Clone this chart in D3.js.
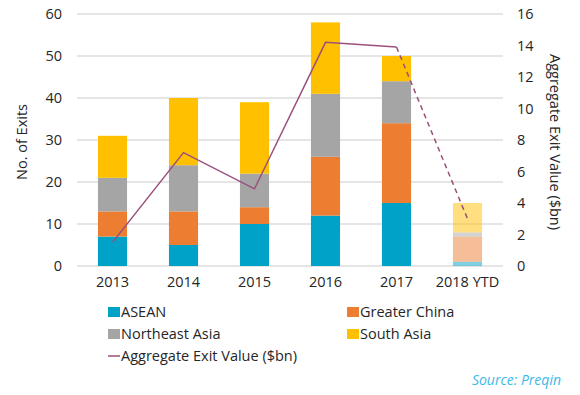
<!DOCTYPE html>
<html>
<head>
<meta charset="utf-8">
<script src="https://cdn.jsdelivr.net/npm/d3@7"></script>
<style>
body { margin: 0; background: #fff; }
text { font-family: "Open Sans", sans-serif; fill: #262626; }
</style>
</head>
<body>
<div id="chart"></div>
<script>
var years = ["2013", "2014", "2015", "2016", "2017", "2018 YTD"];
var asean = [7, 5, 10, 12, 15, 1];
var greaterChina = [6, 8, 4, 14, 19, 6];
var northeastAsia = [8, 11, 8, 15, 10, 1];
var southAsia = [10, 16, 17, 17, 6, 7];
var exitValue = [1.5, 7.2, 4.9, 14.2, 13.9, 3.0];
var leftTicks = [0, 10, 20, 30, 40, 50, 60];
var rightTicks = [0, 2, 4, 6, 8, 10, 12, 14, 16];

var seriesNames = ["ASEAN", "Greater China", "Northeast Asia", "South Asia"];
var colors = ["#00a2c7", "#ed7d31", "#a5a5a5", "#ffc000"];
var fs = "14.5px";

var w = 580, h = 395;
var svg = d3.select("#chart").append("svg").attr("width", w).attr("height", h);

var x = d3.scaleBand().domain(years).range([77, 503]).paddingInner(0.59).paddingOuter(0.295);
var yL = d3.scaleLinear().domain([0, 60]).range([266, 14]);
var yR = d3.scaleLinear().domain([0, 16]).range([266, 14]);

// gridlines
svg.append("g").selectAll("line").data(leftTicks).enter().append("line")
	.attr("x1", 77).attr("x2", 503)
	.attr("y1", d => yL(d)).attr("y2", d => yL(d))
	.style("stroke", "#dcdcdc").style("stroke-width", 1.5);

// stacked bars
var table = years.map(function(y, i){
	return { year: y, s0: asean[i], s1: greaterChina[i], s2: northeastAsia[i], s3: southAsia[i] };
});
var stack = d3.stack().keys(["s0", "s1", "s2", "s3"])(table);

svg.append("g").selectAll("g").data(stack).enter().append("g")
	.style("fill", (d, i) => colors[i])
	.selectAll("rect").data(d => d).enter().append("rect")
	.attr("x", d => x(d.data.year))
	.attr("width", x.bandwidth())
	.attr("y", d => yL(d[1]))
	.attr("height", d => yL(d[0]) - yL(d[1]))
	.style("opacity", d => d.data.year == "2018 YTD" ? 0.5 : 1);

// line
var pts = years.map((y, i) => [x(y) + x.bandwidth()/2, yR(exitValue[i])]);
var line = d3.line();
svg.append("path").attr("d", line(pts.slice(0, 5)))
	.style("fill", "none").style("stroke", "#9b4f7b").style("stroke-width", 1.5);
svg.append("path").attr("d", line(pts.slice(4)))
	.style("fill", "none").style("stroke", "#9b4f7b").style("stroke-width", 1.5)
	.style("stroke-dasharray", "5,4");

// axes labels
var axL = svg.append("g").attr("transform", "translate(62,0)")
	.call(d3.axisLeft(yL).tickValues(leftTicks).tickSize(0).tickPadding(0));
var axR = svg.append("g").attr("transform", "translate(517,0)")
	.call(d3.axisRight(yR).tickValues(rightTicks).tickSize(0).tickPadding(0));
var axX = svg.append("g").attr("transform", "translate(0,272)")
	.call(d3.axisBottom(x).tickSize(0).tickPadding(5));
[axL, axR, axX].forEach(function(a){
	a.select(".domain").remove();
	a.selectAll("text").style("font-size", fs).style("font-family", "'Open Sans', sans-serif").attr("fill", "#262626");
});

svg.append("text").attr("transform", "translate(27,142) rotate(-90)")
	.attr("text-anchor", "middle").style("font-size", fs).text("No. of Exits");
svg.append("text").attr("transform", "translate(550,142) rotate(90)")
	.attr("text-anchor", "middle").style("font-size", fs).text("Aggregate Exit Value ($bn)");

// legend
var legendPos = [[108, 312], [347, 312], [108, 334], [347, 334]];
seriesNames.forEach(function(n, i){
	var g = svg.append("g").attr("transform", "translate(" + legendPos[i][0] + "," + legendPos[i][1] + ")");
	g.append("rect").attr("x", 0).attr("y", -5).attr("width", 12).attr("height", 10).style("fill", colors[i]);
	g.append("text").attr("x", 13).attr("y", 5).style("font-size", fs).text(n);
});
var lg = svg.append("g").attr("transform", "translate(108,356)");
lg.append("line").attr("x1", 0).attr("x2", 12).attr("y1", 0).attr("y2", 0)
	.style("stroke", "#9b4f7b").style("stroke-width", 1.5);
lg.append("text").attr("x", 13).attr("y", 5).style("font-size", fs).text("Aggregate Exit Value ($bn)");

svg.append("text").attr("x", 561).attr("y", 385).attr("text-anchor", "end")
	.style("font-size", "14px").style("font-style", "italic").style("fill", "#3cb9e9")
	.text("Source: Preqin");
</script>
</body>
</html>
